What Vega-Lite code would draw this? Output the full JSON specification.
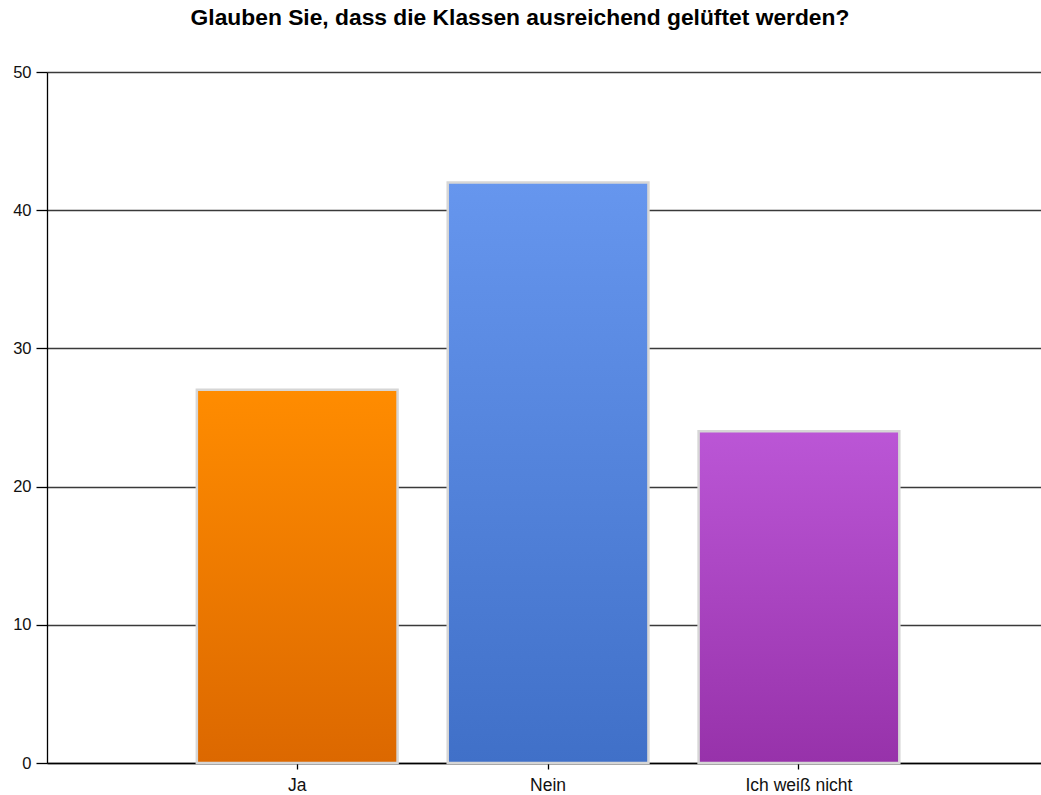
{
  "$schema": "https://vega.github.io/schema/vega-lite/v6.json",
  "autosize": {"type": "none"},
  "width": 994,
  "height": 691,
  "padding": {"left": 47, "top": 72, "right": 0, "bottom": 32},
  "background": "white",
  "title": {
    "text": "Glauben Sie, dass die Klassen ausreichend gelüftet werden?",
    "font": "Liberation Sans",
    "fontSize": 22.8,
    "fontWeight": "bold",
    "color": "#000000",
    "anchor": "middle",
    "frame": "group",
    "dx": -24,
    "baseline": "alphabetic",
    "offset": 16
  },
  "config": {
    "view": {"stroke": null},
    "axis": {
      "labelFont": "Liberation Sans",
      "labelColor": "#111111",
      "domainColor": "#000000",
      "tickColor": "#000000",
      "title": null
    }
  },
  "data": {
    "values": [
      {"Antwort": "Ja", "Anzahl": 27},
      {"Antwort": "Nein", "Anzahl": 42},
      {"Antwort": "Ich weiß nicht", "Anzahl": 24}
    ]
  },
  "encoding": {
    "x": {
      "field": "Antwort",
      "type": "nominal",
      "sort": ["Ja", "Nein", "Ich weiß nicht"],
      "scale": {"paddingInner": 0.2, "paddingOuter": 0.581, "align": 0.514},
      "axis": {
        "labelAngle": 0,
        "labelFontSize": 17.5,
        "tickSize": 6,
        "labelPadding": 7,
        "domainWidth": 1.3,
        "tickWidth": 1.3,
        "grid": false
      }
    },
    "y": {
      "field": "Anzahl",
      "type": "quantitative",
      "scale": {"domain": [0, 50], "nice": false},
      "axis": {
        "values": [0, 10, 20, 30, 40, 50],
        "labelFontSize": 16.5,
        "tickSize": 11,
        "labelPadding": 5,
        "domainWidth": 1.3,
        "tickWidth": 1.3,
        "grid": true,
        "gridColor": "#3a3a3a",
        "gridWidth": 1.3,
        "gridOpacity": 1
      }
    }
  },
  "layer": [
    {
      "transform": [{"filter": "datum.Antwort === 'Ja'"}],
      "mark": {
        "type": "bar",
        "stroke": "#d6d6d6",
        "strokeWidth": 2.5,
        "color": {
          "gradient": "linear", "x1": 0, "y1": 0, "x2": 0, "y2": 1,
          "stops": [{"offset": 0, "color": "#ff8c00"}, {"offset": 1, "color": "#dc6800"}]
        }
      }
    },
    {
      "transform": [{"filter": "datum.Antwort === 'Nein'"}],
      "mark": {
        "type": "bar",
        "stroke": "#d6d6d6",
        "strokeWidth": 2.5,
        "color": {
          "gradient": "linear", "x1": 0, "y1": 0, "x2": 0, "y2": 1,
          "stops": [{"offset": 0, "color": "#6696ee"}, {"offset": 1, "color": "#4070c8"}]
        }
      }
    },
    {
      "transform": [{"filter": "datum.Antwort === 'Ich weiß nicht'"}],
      "mark": {
        "type": "bar",
        "stroke": "#d6d6d6",
        "strokeWidth": 2.5,
        "color": {
          "gradient": "linear", "x1": 0, "y1": 0, "x2": 0, "y2": 1,
          "stops": [{"offset": 0, "color": "#bb56d6"}, {"offset": 1, "color": "#9732aa"}]
        }
      }
    }
  ]
}
